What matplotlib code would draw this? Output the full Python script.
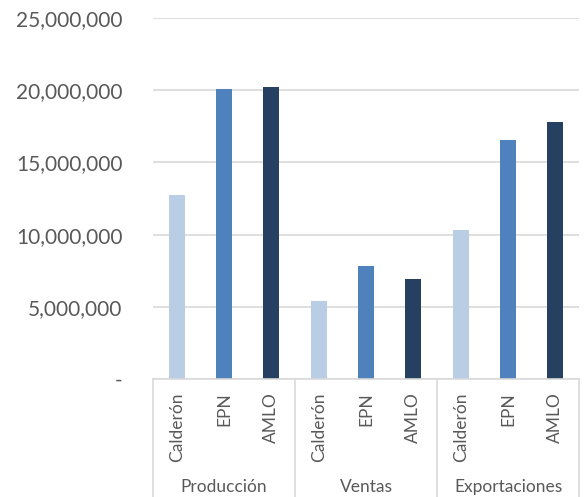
import matplotlib
matplotlib.use("Agg")
import matplotlib.pyplot as plt
from matplotlib.ticker import FuncFormatter
import matplotlib.transforms as mtransforms

plt.rcParams['font.family'] = ['Lato', 'DejaVu Sans']

groups = ["Producción", "Ventas", "Exportaciones"]
series = ["Calderón", "EPN", "AMLO"]
produccion = [12750000, 20080000, 20240000]
ventas = [5410000, 7810000, 6940000]
exportaciones = [10330000, 16550000, 17790000]
group_values = [produccion, ventas, exportaciones]
colors = ["#B9CDE5", "#4F81BD", "#254061"]
yticks = [0, 5000000, 10000000, 15000000, 20000000, 25000000]

text_color = "#595959"
grid_color = "#D9D9D9"

fig = plt.figure(figsize=(5.85, 4.97), dpi=100)
ax = fig.add_axes([153/585, (497-379)/497, (579-153)/585, (379-18)/497])

pos = 0
for g, vals in enumerate(group_values):
    for s, v in enumerate(vals):
        ax.bar(pos, v, width=0.34, color=colors[s], zorder=3)
        pos += 1

n = pos
ax.set_xlim(-0.5, n - 0.5)
ax.set_ylim(0, 25000000)
ax.set_yticks(yticks)
ax.yaxis.set_major_formatter(FuncFormatter(lambda v, p: "-" if v == 0 else f"{int(v):,}"))
ax.tick_params(axis='y', length=0, pad=22, labelsize=15, labelcolor=text_color)
ax.set_xticks([])
ax.grid(axis='y', color=grid_color, linewidth=1.2, zorder=0)
for sp in ["top", "right", "left"]:
    ax.spines[sp].set_visible(False)
ax.spines["bottom"].set_color(grid_color)
ax.spines["bottom"].set_linewidth(1.2)
ax.spines["bottom"].set_zorder(4)

trans = mtransforms.blended_transform_factory(ax.transData, ax.transAxes)
bottom = -118/361
for i in range(len(groups) + 1):
    x = -0.5 + 3 * i
    ax.plot([x, x], [0, bottom], transform=trans, color=grid_color, linewidth=1.2, clip_on=False)

pos = 0
for g, name in enumerate(groups):
    for s, sname in enumerate(series):
        ax.text(pos, -13/361, sname, transform=trans, rotation=90, ha='center', va='top',
                fontsize=12.5, color=text_color)
        pos += 1
    ax.text(3 * g + 1, -108/361, name, transform=trans, ha='center', va='center',
            fontsize=12.5, color=text_color)

fig.savefig("out.png", dpi=100)
